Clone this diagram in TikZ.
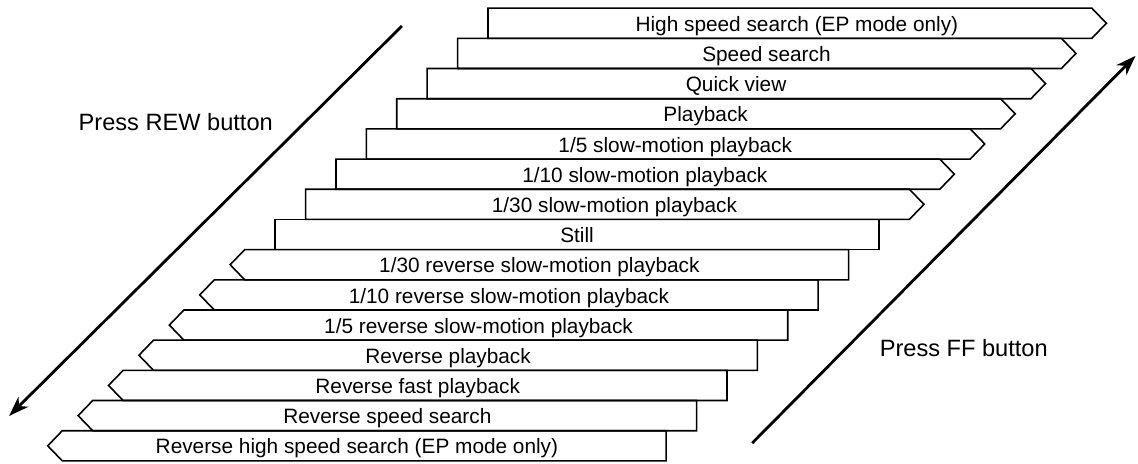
\documentclass[tikz,border=0pt]{standalone}
\usepackage{fontspec}
\setmainfont{Liberation Sans}
\usetikzlibrary{arrows.meta}
\begin{document}
\begin{tikzpicture}[x=15.2pt,y=15.09pt,
    every node/.style={font=\fontsize{10.4}{12}\selectfont,anchor=base},
    box/.style={line width=.8pt,line join=miter},
    lbl/.style={font=\fontsize{11.8}{14}\selectfont},
    press/.style={line width=1.4pt,-{Stealth[length=10pt,width=7pt,inset=3pt]}}]
    \useasboundingbox (-2.05,-.07) rectangle (35.38,15.27);
    % forward steps (FF)
    \draw[box] (14,14) -- ++(19.86,0) -- ++(.48,.5) -- ++(-.48,.5) -- ++(-19.86,0) -- cycle;
    \node (hispeed) at (24.16,14.23) {High speed search (EP mode only)};
    \draw[box] (13,13) -- ++(19.86,0) -- ++(.48,.5) -- ++(-.48,.5) -- ++(-19.86,0) -- cycle;
    \node (speed) at (23.16,13.23) {Speed search};
    \draw[box] (12,12) -- ++(19.86,0) -- ++(.48,.5) -- ++(-.48,.5) -- ++(-19.86,0) -- cycle;
    \node (quick) at (22.16,12.23) {Quick view};
    \draw[box] (11,11) -- ++(19.86,0) -- ++(.48,.5) -- ++(-.48,.5) -- ++(-19.86,0) -- cycle;
    \node (play) at (21.16,11.23) {Playback};
    \draw[box] (10,10) -- ++(19.86,0) -- ++(.48,.5) -- ++(-.48,.5) -- ++(-19.86,0) -- cycle;
    \node (slowfive) at (20.16,10.23) {1/5 slow-motion playback};
    \draw[box] (9,9) -- ++(19.86,0) -- ++(.48,.5) -- ++(-.48,.5) -- ++(-19.86,0) -- cycle;
    \node (slowten) at (19.16,9.23) {1/10 slow-motion playback};
    \draw[box] (8,8) -- ++(19.86,0) -- ++(.48,.5) -- ++(-.48,.5) -- ++(-19.86,0) -- cycle;
    \node (slowthirty) at (18.16,8.23) {1/30 slow-motion playback};
    % still
    \draw[box] (7,7) rectangle ++(19.86,1);
    \node (still) at (16.93,7.23) {Still};
    % reverse steps (REW)
    \draw[box] (6,6) -- ++(19.86,0) -- ++(0,1) -- ++(-19.86,0) -- ++(-.48,-.5) -- cycle;
    \node (rslowthirty) at (15.69,6.23) {1/30 reverse slow-motion playback};
    \draw[box] (5,5) -- ++(19.86,0) -- ++(0,1) -- ++(-19.86,0) -- ++(-.48,-.5) -- cycle;
    \node (rslowten) at (14.69,5.23) {1/10 reverse slow-motion playback};
    \draw[box] (4,4) -- ++(19.86,0) -- ++(0,1) -- ++(-19.86,0) -- ++(-.48,-.5) -- cycle;
    \node (rslowfive) at (13.69,4.23) {1/5 reverse slow-motion playback};
    \draw[box] (3,3) -- ++(19.86,0) -- ++(0,1) -- ++(-19.86,0) -- ++(-.48,-.5) -- cycle;
    \node (rplay) at (12.69,3.23) {Reverse playback};
    \draw[box] (2,2) -- ++(19.86,0) -- ++(0,1) -- ++(-19.86,0) -- ++(-.48,-.5) -- cycle;
    \node (rfast) at (11.69,2.23) {Reverse fast playback};
    \draw[box] (1,1) -- ++(19.86,0) -- ++(0,1) -- ++(-19.86,0) -- ++(-.48,-.5) -- cycle;
    \node (rspeed) at (10.69,1.23) {Reverse speed search};
    \draw[box] (0,0) -- ++(19.86,0) -- ++(0,1) -- ++(-19.86,0) -- ++(-.48,-.5) -- cycle;
    \node (rhispeed) at (9.69,.23) {Reverse high speed search (EP mode only)};
    % buttons
    \coordinate (rewtop) at (11.17,14.41);
    \coordinate (rewend) at (-1.75,1.49);
    \draw[press] (rewtop) -- (rewend);
    \node[lbl] (rew) at (3.73,10.96) {Press REW button};
    \coordinate (fftail) at (22.69,.59);
    \coordinate (ffend) at (35.3,13.42);
    \draw[press] (fftail) -- (ffend);
    \node[lbl] (ff) at (29.65,3.45) {Press FF button};
\end{tikzpicture}
\end{document}
